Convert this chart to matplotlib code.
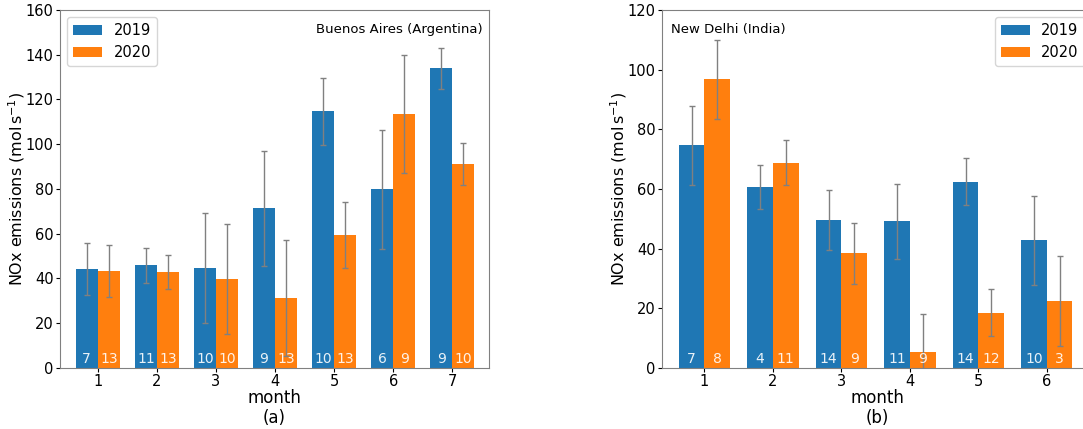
import numpy as np
import matplotlib.pyplot as plt

# Buenos Aires monthly NOx emissions (mol/s), mean and std, with sample counts
ba_months = [1, 2, 3, 4, 5, 6, 7]
ba_2019 = [44.2, 46.0, 44.5, 71.3, 114.7, 79.8, 133.9]
ba_2019_err = [11.6, 7.8, 24.6, 25.9, 15.0, 26.4, 9.1]
ba_2019_n = [7, 11, 10, 9, 10, 6, 9]
ba_2020 = [43.2, 42.9, 39.9, 31.3, 59.4, 113.4, 91.1]
ba_2020_err = [11.6, 7.8, 24.5, 25.9, 14.9, 26.3, 9.3]
ba_2020_n = [13, 13, 10, 13, 13, 9, 10]

# New Delhi
nd_months = [1, 2, 3, 4, 5, 6]
nd_2019 = [74.6, 60.7, 49.6, 49.2, 62.5, 42.8]
nd_2019_err = [13.3, 7.5, 10.2, 12.6, 8.0, 15.0]
nd_2019_n = [7, 4, 14, 11, 14, 10]
nd_2020 = [96.8, 68.8, 38.5, 5.4, 18.5, 22.5]
nd_2020_err = [13.3, 7.5, 10.2, 12.6, 7.9, 15.0]
nd_2020_n = [8, 11, 9, 9, 12, 3]

width = 0.375


def draw_panel(ax, months, v19, e19, n19, v20, e20, n20, ymax, city, letter, city_loc, leg_loc):
    x = np.array(months)
    ax.bar(x - width / 2, v19, width, yerr=e19, color="#1f77b4", label="2019",
           ecolor="grey", capsize=2.5, error_kw={"elinewidth": 1, "capthick": 1})
    ax.bar(x + width / 2, v20, width, yerr=e20, color="#ff7f0e", label="2020",
           ecolor="grey", capsize=2.5, error_kw={"elinewidth": 1, "capthick": 1})
    # number of samples written at the foot of each bar
    for xi, a, b in zip(x, n19, n20):
        ax.annotate(str(a), (xi - width / 2, 0), xytext=(0, 1.5), textcoords="offset points",
                    ha="center", va="bottom", color="white", fontsize=10, alpha=0.9)
        ax.annotate(str(b), (xi + width / 2, 0), xytext=(0, 1.5), textcoords="offset points",
                    ha="center", va="bottom", color="white", fontsize=10, alpha=0.9)
    ax.set_ylim(0, ymax)
    ax.set_xticks(months)
    ax.tick_params(labelsize=10.5, length=3, pad=1.5)
    ax.set_xlabel("month\n(" + letter + ")", fontsize=12, labelpad=0, linespacing=1.1)
    ax.set_ylabel(r"NOx emissions (mol$\,$s$^{-1}$)", fontsize=11.5)
    ax.yaxis.set_label_coords(-0.078, 0.5)
    for s in ax.spines.values():
        s.set_color("#808080")
    ax.legend(loc=leg_loc, fontsize=10.5)
    if city_loc == "right":
        ax.text(0.985, 0.965, city, transform=ax.transAxes, ha="right", va="top", fontsize=9.5)
    else:
        ax.text(0.02, 0.965, city, transform=ax.transAxes, ha="left", va="top", fontsize=9.5)


fig = plt.figure(figsize=(10.83, 4.29), dpi=100)
ax1 = fig.add_axes([0.0554, 0.1422, 0.3961, 0.8345])
ax2 = fig.add_axes([0.6113, 0.1422, 0.3970, 0.8345])

draw_panel(ax1, ba_months, ba_2019, ba_2019_err, ba_2019_n, ba_2020, ba_2020_err, ba_2020_n,
           160, "Buenos Aires (Argentina)", "a", "right", "upper left")
ax1.set_xlim(0.36, 7.62)

draw_panel(ax2, nd_months, nd_2019, nd_2019_err, nd_2019_n, nd_2020, nd_2020_err, nd_2020_n,
           120, "New Delhi (India)", "b", "left", "upper right")
ax2.set_xlim(0.38, 6.66)

fig.savefig("out.png", dpi=100)
